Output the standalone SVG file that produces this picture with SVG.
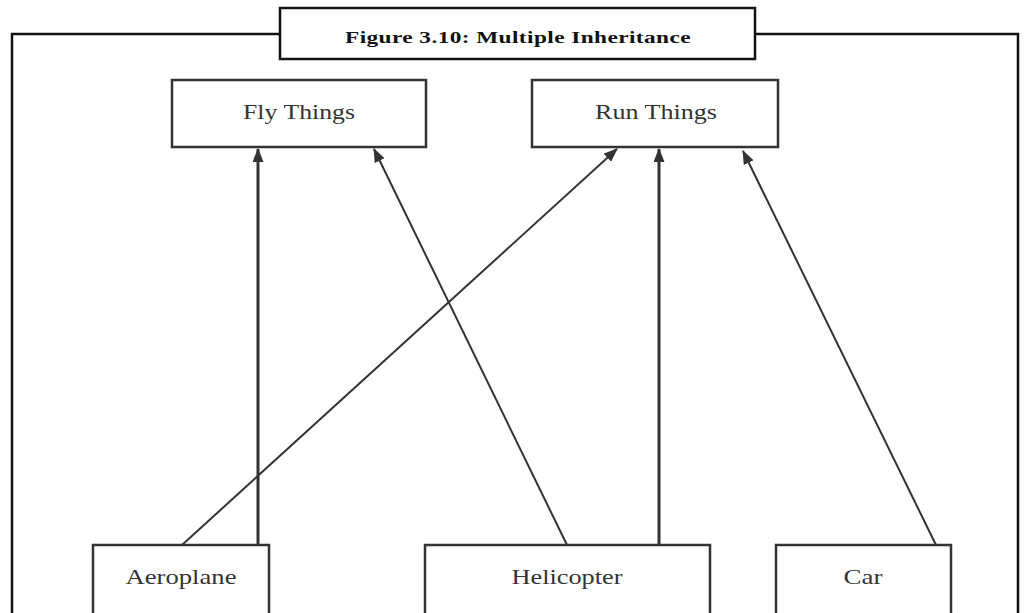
<svg xmlns="http://www.w3.org/2000/svg" width="1031" height="613" viewBox="0 0 1031 613">
  <style>
    .frame { fill: none; stroke: #111; stroke-width: 2.5; }
    .titlebox { fill: #fff; stroke: #111; stroke-width: 2.5; }
    .title { font-family: "Liberation Serif", "DejaVu Serif", serif; font-weight: bold; font-size: 17px; fill: #111; letter-spacing: 0.3px; }
    .box { fill: #fff; stroke: #333; stroke-width: 2.5; }
    .label { font-family: "Liberation Serif", "DejaVu Serif", serif; font-size: 22px; fill: #333; text-anchor: middle; }
    .edge { fill: none; stroke: #333; stroke-width: 2; }
    .edge.thick { stroke-width: 3; }
  </style>
  <defs>
    <marker id="arrow" viewBox="0 0 14 11" refX="13" refY="5.5" markerWidth="14" markerHeight="11" markerUnits="userSpaceOnUse" orient="auto">
      <path d="M0,0 L14,5.5 L0,11 Z" fill="#333"/>
    </marker>
  </defs>

  <rect width="1031" height="613" fill="#fff"/>

  <!-- outer frame, open at the bottom edge -->
  <path class="frame" d="M12,614 V34 H280 M755,34 H1018 V614"/>

  <!-- caption -->
  <g id="caption">
    <rect class="titlebox" x="280" y="8" width="475" height="51"/>
    <text class="title" x="345" y="43" textLength="346" lengthAdjust="spacingAndGlyphs">Figure 3.10: Multiple Inheritance</text>
  </g>

  <!-- inheritance connectors -->
  <g id="connectors">
    <line class="edge thick" x1="258" y1="545" x2="258" y2="149" marker-end="url(#arrow)"/>
    <line class="edge" x1="182" y1="545" x2="617" y2="149" marker-end="url(#arrow)"/>
    <line class="edge" x1="567" y1="545" x2="374" y2="149" marker-end="url(#arrow)"/>
    <line class="edge thick" x1="659" y1="545" x2="659" y2="149" marker-end="url(#arrow)"/>
    <line class="edge" x1="936" y1="545" x2="743" y2="151" marker-end="url(#arrow)"/>
  </g>

  <g id="fly-things">
    <rect class="box" x="172" y="80" width="254" height="67"/>
    <text class="label" x="299" y="119" textLength="112" lengthAdjust="spacingAndGlyphs">Fly Things</text>
  </g>

  <g id="run-things">
    <rect class="box" x="532" y="80" width="246" height="67"/>
    <text class="label" x="656" y="119" textLength="122" lengthAdjust="spacingAndGlyphs">Run Things</text>
  </g>

  <g id="aeroplane">
    <rect class="box" x="93" y="545" width="176" height="70"/>
    <text class="label" x="181" y="584" textLength="111" lengthAdjust="spacingAndGlyphs">Aeroplane</text>
  </g>

  <g id="helicopter">
    <rect class="box" x="425" y="545" width="285" height="70"/>
    <text class="label" x="567" y="584" textLength="111" lengthAdjust="spacingAndGlyphs">Helicopter</text>
  </g>

  <g id="car">
    <rect class="box" x="776" y="545" width="175" height="70"/>
    <text class="label" x="863" y="584" textLength="39" lengthAdjust="spacingAndGlyphs">Car</text>
  </g>
</svg>
